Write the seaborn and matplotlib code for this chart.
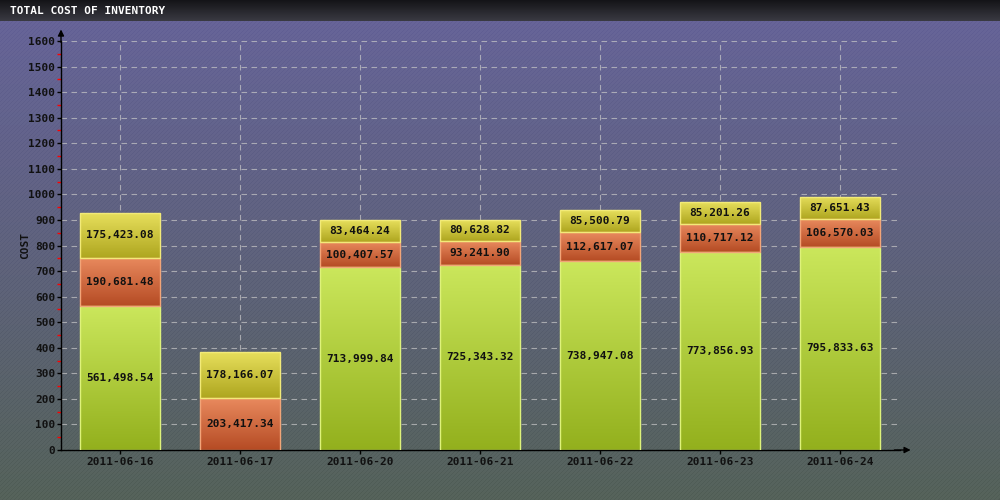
import numpy as np
import pandas as pd
import matplotlib
matplotlib.use("Agg")
import matplotlib.pyplot as plt
from matplotlib.colors import LinearSegmentedColormap
import seaborn as sns

# Data (cost per day, split in three layers)
dates = ["2011-06-16", "2011-06-17", "2011-06-20", "2011-06-21",
         "2011-06-22", "2011-06-23", "2011-06-24"]
base_cost = [561498.54, 0.0, 713999.84, 725343.32, 738947.08, 773856.93, 795833.63]
mid_cost = [190681.48, 203417.34, 100407.57, 93241.90, 112617.07, 110717.12, 106570.03]
top_cost = [175423.08, 178166.07, 83464.24, 80628.82, 85500.79, 85201.26, 87651.43]
y_ticks = list(range(0, 1700, 100))
y_minor = list(range(50, 1600, 100))

sns.set_style("ticks")
plt.rcParams["font.family"] = ["DejaVu Sans Mono", "DejaVu Sans"]

fig = plt.figure(figsize=(10, 5), dpi=100)

# Background gradient with fine diagonal stripes
bg = fig.add_axes([0, 0, 1, 1], zorder=-10)
grad = np.linspace(0, 1, 256).reshape(-1, 1)
bg_cmap = LinearSegmentedColormap.from_list("bg", ["#625f97", "#595d79", "#4f5c54"])
bg.imshow(grad, aspect="auto", cmap=bg_cmap, extent=[0, 1, 0, 1], origin="upper")
for c in np.arange(-0.5, 1.0, 0.004):
    bg.plot([c, c + 0.5], [0, 1], color="white", alpha=0.045, lw=1, antialiased=False)
bg.set_xlim(0, 1)
bg.set_ylim(0, 1)
bg.axis("off")

# Title bar
tb = fig.add_axes([0, 1 - 21 / 500, 1, 21 / 500], zorder=5)
tb_cmap = LinearSegmentedColormap.from_list("tb", ["#141418", "#3a3a42"])
tb.imshow(grad, aspect="auto", cmap=tb_cmap, extent=[0, 1, 0, 1], origin="upper")
tb.set_xlim(0, 1)
tb.set_ylim(0, 1)
tb.axis("off")
tb.text(0.010, 0.5, "TOTAL COST OF INVENTORY", color="white", fontsize=8,
        fontweight="bold", va="center", ha="left")

# Main chart
ax = fig.add_axes([0.061, 0.1, 0.839, 0.818])
ax.patch.set_alpha(0)

df = pd.DataFrame({
    "date": dates,
    "base": np.array(base_cost) / 1000,
    "mid": np.array(mid_cost) / 1000,
    "top": np.array(top_cost) / 1000,
})
df["mid_bottom"] = df["base"]
df["top_bottom"] = df["base"] + df["mid"]

layers = [
    ("base", None, base_cost, "#cbe75c", "#93b01d", "#def27a"),
    ("mid", "mid_bottom", mid_cost, "#e98a5e", "#b54b24", "#f2a478"),
    ("top", "top_bottom", top_cost, "#e7df5c", "#aea61f", "#f2ea78"),
]

for col, bcol, raw, c_top, c_bot, c_edge in layers:
    n_before = len(ax.patches)
    sns.barplot(data=df, x="date", y=col, color=c_top, width=0.667,
                ax=ax, zorder=2)
    seg_cmap = LinearSegmentedColormap.from_list(col, [c_top, c_bot])
    for i, patch in enumerate(ax.patches[n_before:]):
        bottom = 0.0 if bcol is None else df[bcol].iloc[i]
        h = df[col].iloc[i]
        patch.set_y(bottom)
        patch.set_height(h)
        if h <= 0:
            patch.set_visible(False)
            continue
        x0 = patch.get_x()
        x1 = x0 + patch.get_width()
        img = ax.imshow(grad, aspect="auto", cmap=seg_cmap, origin="upper",
                        extent=[x0, x1, bottom, bottom + h], zorder=2.5)
        img.set_clip_path(patch)
        patch.set_facecolor("none")
        patch.set_edgecolor(c_edge)
        patch.set_linewidth(1)
        patch.set_zorder(3)
        ax.text(x0 + patch.get_width() / 2, bottom + h / 2, f"{raw[i]:,.2f}",
                ha="center", va="center", fontsize=8, color="#111111",
                fontweight="bold", zorder=5)

ax.set_xlim(-0.49, 6.5)
ax.set_ylim(0, 1600)
ax.set_aspect("auto")
ax.set_yticks(y_ticks)
ax.set_yticklabels([str(t) for t in y_ticks], fontsize=8, color="#111111",
                   fontweight="bold")
ax.set_yticks(y_minor, minor=True)
ax.set_xticks(range(len(dates)))
ax.set_xticklabels(dates, fontsize=8, color="#111111", fontweight="bold")
ax.tick_params(axis="y", which="major", left=True, length=3, width=1,
               color="black", pad=1)
ax.tick_params(axis="y", which="minor", left=True, length=3, width=1, color="red")
ax.tick_params(axis="x", bottom=True, length=3, width=1, color="black", pad=2)

ax.grid(True, color="#c8c8c8", linestyle=(0, (5, 4)), lw=0.8, alpha=0.7)
ax.set_axisbelow(True)

ax.set_xlabel("")
ax.set_ylabel("COST", fontsize=8, color="#111111", fontweight="bold")
ax.yaxis.set_label_coords(-0.037, 0.5)

for s in ["top", "right"]:
    ax.spines[s].set_visible(False)
for s in ["left", "bottom"]:
    ax.spines[s].set_color("black")
    ax.spines[s].set_linewidth(1)

ax.annotate("", xy=(0, 1.035), xytext=(0, 0.99), xycoords="axes fraction",
            arrowprops=dict(arrowstyle="-|>", color="black", lw=1, mutation_scale=9),
            annotation_clip=False)
ax.annotate("", xy=(1.016, 0), xytext=(0.99, 0), xycoords="axes fraction",
            arrowprops=dict(arrowstyle="-|>", color="black", lw=1, mutation_scale=9),
            annotation_clip=False)

fig.savefig("out.png", dpi=100)
